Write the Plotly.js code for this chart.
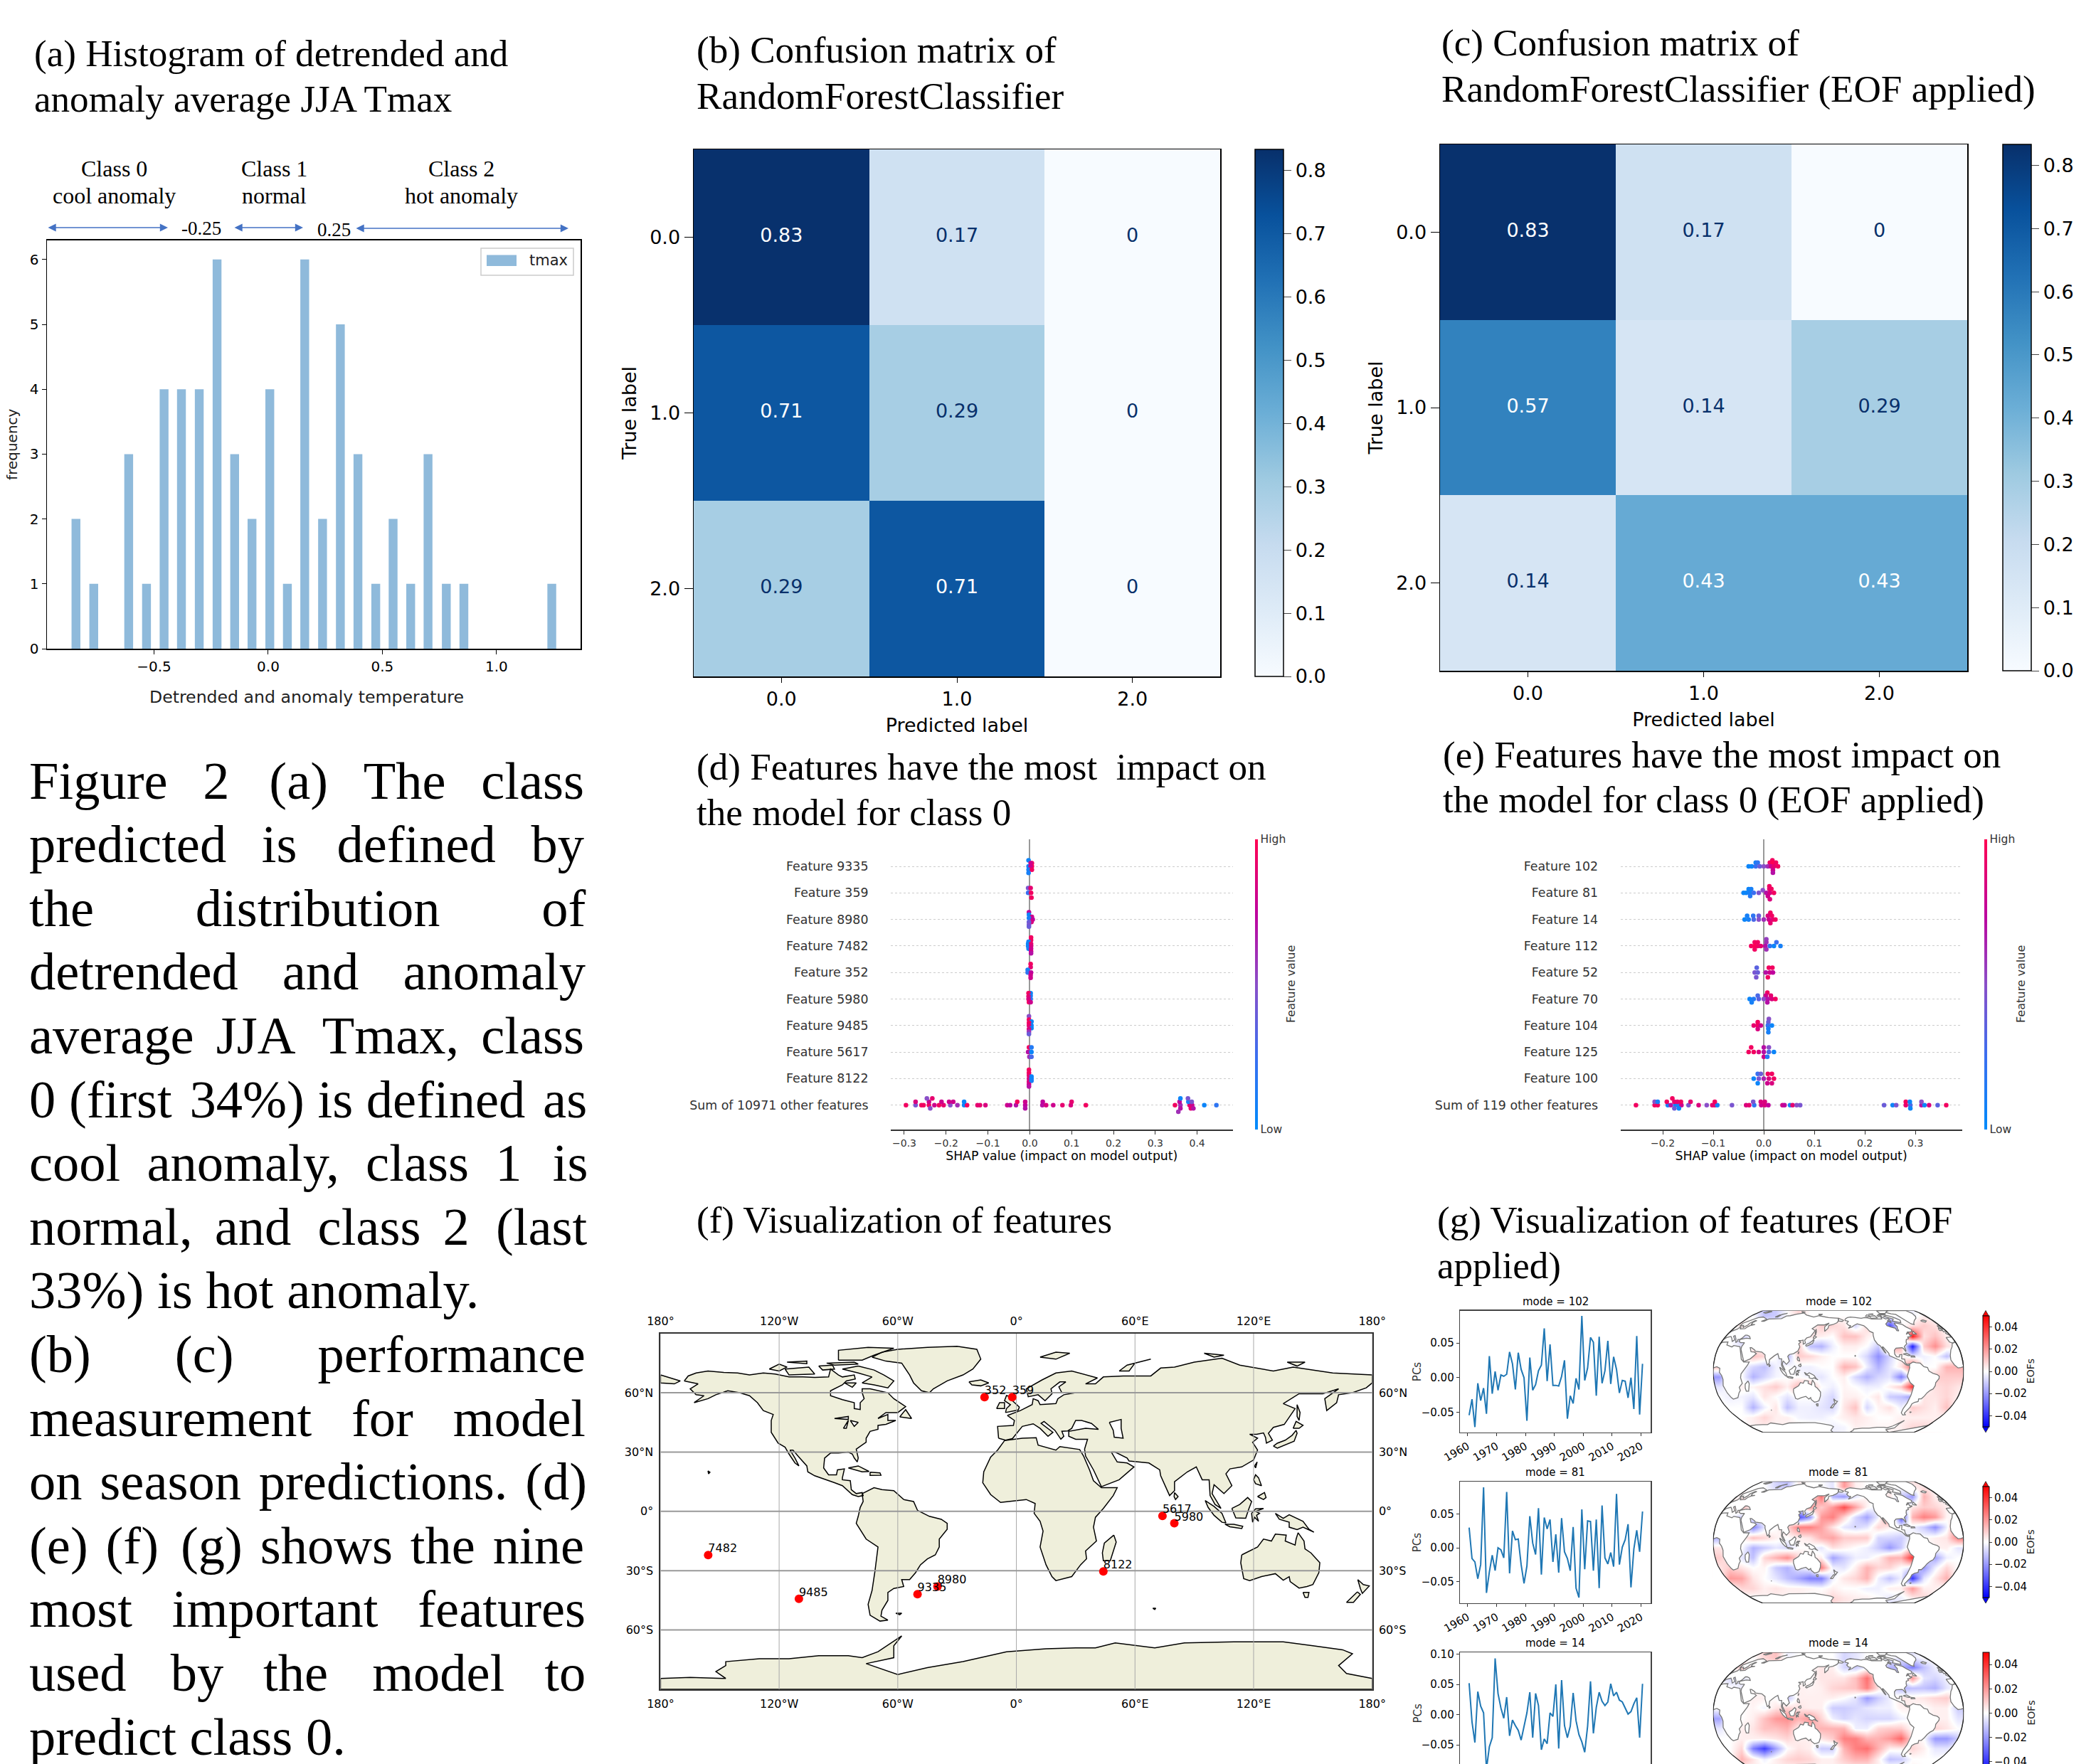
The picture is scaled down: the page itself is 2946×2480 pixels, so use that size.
<!DOCTYPE html>
<html><head><meta charset="utf-8">
<script src="https://cdn.plot.ly/plotly-3.0.1.min.js"></script>
<style>html,body{margin:0;padding:0;background:#fff;overflow:hidden}#wrap{width:2946px;height:2480px;overflow:hidden;position:relative}</style>
</head><body><div id="wrap"><div id="plot"></div></div>
<script>
// ---------- data ----------
const histBins=[-0.842,-0.764,-0.611,-0.533,-0.456,-0.380,-0.302,-0.224,-0.147,-0.071,0.007,0.084,0.160,0.238,0.316,0.393,0.471,0.547,0.624,0.700,0.780,0.857,1.242];
const histCounts=[2,1,3,1,4,4,4,6,3,2,4,1,6,2,5,3,1,2,1,3,1,1,1];
const classLabels=['0.0','1.0','2.0'];
const confusionB=[[0.83,0.17,0],[0.71,0.29,0],[0.29,0.71,0]];
const confusionC=[[0.83,0.17,0],[0.57,0.14,0.29],[0.14,0.43,0.43]];
const shapRowsD=['Feature 9335','Feature 359','Feature 8980','Feature 7482','Feature 352','Feature 5980','Feature 9485','Feature 5617','Feature 8122','Sum of 10971 other features'];
const shapRowsE=['Feature 102','Feature 81','Feature 14','Feature 112','Feature 52','Feature 70','Feature 104','Feature 125','Feature 100','Sum of 119 other features'];
// each point: [shap value, vertical offset in the row, feature value 0-1]
const shapPointsD=[
[[-.003,-.23,.05],[.005,-.125,.95],[.002,-.125,.8],[-.003,0,.1],[.005,0,1],[.002,0,.8],[-.003,.125,.1],[.005,.125,.95],[-.003,.25,.1]],
[[-.004,-.18,.45],[.002,-.18,.9],[-.004,0,.25],[.003,0,.95],[.004,.18,.95]],
[[-.002,-.27,.75],[-.002,-.18,.05],[.005,-.1,.8],[-.002,-.05,.1],[.007,0,.75],[.004,.1,.85],[-.002,.1,.4],[-.002,.2,.45],[-.002,.27,.4]],
[[.003,-.32,.95],[.003,-.22,.95],[-.003,-.16,.1],[-.004,-.08,.05],[.003,-.08,.9],[-.004,0,.05],[.003,0,.85],[-.003,.1,.1],[.003,.1,.8],[.003,.2,.8],[.003,.28,.7]],
[[.002,-.32,.95],[.002,-.2,.9],[-.005,-.1,.1],[-.005,0,.2],[.003,0,.75],[.002,.1,.8],[.002,.2,.8]],
[[.002,-.22,.05],[-.003,-.22,.95],[.002,-.12,.1],[-.003,-.1,.9],[.002,0,.2],[-.003,0,.85],[-.002,.12,.95],[.002,.12,.8]],
[[-.002,-.35,.5],[-.002,-.22,.95],[.004,-.15,.05],[-.002,-.1,.95],[.004,0,.05],[-.002,0,.9],[.004,.1,.05],[-.002,.13,.85],[-.002,.23,.6],[-.002,.32,.4]],
[[-.002,-.18,.95],[.004,-.18,.15],[-.004,0,.7],[.004,0,.05],[-.001,.18,.6],[.004,.18,.3]],
[[-.002,-.33,.95],[-.002,-.22,.95],[-.002,-.12,.9],[.004,-.08,.05],[-.002,0,.85],[.004,0,.05],[-.002,.12,.85],[.004,.08,.1],[-.002,.22,.8],[-.002,.3,.7]],
[[-.296,0,.95],[-.273,0,.45],[-.259,0,.95],[-.254,0,.95],[-.241,0,.95],[-.228,0,.8],[-.217,0,.95],[-.206,0,.9],[-.19,0,.5],[-.173,0,.6],[-.157,0,.05],[-.15,0,.95],[-.125,0,.9],[-.119,0,.9],[-.106,0,.85],[-.054,0,.8],[-.047,0,.75],[-.033,0,.7],[-.011,0,.75],[.03,0,.7],[.039,0,.85],[.056,0,.8],[.078,0,.9],[.098,0,.85],[.134,0,.95],[.347,0,.95],[.36,0,.6],[.382,0,.9],[.388,0,.8],[.417,0,.05],[.446,0,.2],
[-.273,-.125,.85],[-.241,-.125,.8],[-.211,-.125,.8],[-.193,-.125,.8],[-.183,-.125,.8],[-.157,-.125,.05],[-.03,-.125,.95],[-.011,-.125,.8],[.031,-.125,.75],[.1,-.125,.9],[.358,-.125,.75],[.379,-.125,.1],[.387,-.125,.45],
[-.246,-.25,.5],[-.233,-.25,.9],[.36,-.25,.05],[.378,-.25,.45],
[-.238,.125,.5],[-.011,.125,.7],[.36,.125,.7],[.385,.125,.9],[.391,.125,.7],[.355,.25,.6]]];
const shapPointsE=[
[[.017,-.23,.95],[-.016,-.14,.1],[-.012,-.14,.2],[.012,-.14,.95],[.018,-.14,1],[.024,-.14,.95],[-.03,0,.05],[-.024,0,.05],[-.016,0,.25],[-.008,0,.4],[0,0,.5],[.008,0,.6],[.014,0,.8],[.02,0,.9],[.028,0,.95],[.018,.14,.8],[.018,.24,.7]],
[[.011,-.25,.95],[.011,-.15,.9],[.015,-.15,.95],[-.03,-.14,.05],[-.025,-.14,.1],[-.04,0,.05],[-.035,0,.05],[-.028,0,.1],[-.02,0,.25],[-.01,0,.45],[-.002,-.1,.5],[.005,0,.7],[.012,0,.85],[.02,0,.95],[.008,.12,.8],[.012,.24,.85],[-.027,.12,.15]],
[[.013,-.25,.95],[-.033,-.14,.1],[-.021,-.14,.2],[-.01,-.14,.4],[.008,-.14,.85],[.016,-.14,.95],[-.038,0,.05],[-.03,0,.1],[-.02,0,.3],[-.01,0,.5],[0,0,.6],[.01,0,.8],[.018,0,.9],[.023,0,.95],[.013,.14,.9]],
[[.005,-.25,.55],[-.018,-.14,.95],[-.012,-.14,.95],[.005,-.14,.6],[.025,-.14,.25],[-.025,0,.95],[-.018,0,1],[-.012,0,.95],[-.006,0,.9],[.003,0,.7],[.012,0,.2],[.02,0,.05],[.033,0,.1],[-.018,.13,.95],[.005,.13,.6]],
[[-.014,-.18,.35],[.01,-.18,.95],[.017,-.18,.95],[-.018,0,.45],[-.012,0,.4],[.004,0,.7],[.012,0,.8],[.018,0,.75],[-.015,.18,.45],[.008,.18,.95]],
[[.007,-.24,.95],[-.012,-.13,.3],[.004,-.13,.8],[.014,-.13,.9],[-.028,0,.05],[-.02,0,.15],[-.01,0,.35],[0,0,.5],[.008,0,.7],[.016,0,.85],[.023,0,.95],[-.024,.13,.1],[.007,.13,.7]],
[[.01,-.25,.5],[-.012,-.13,.95],[.009,-.13,.4],[-.02,0,.9],[-.012,0,.95],[-.006,0,.8],[.008,0,.25],[.016,0,.05],[.009,.12,.1],[-.012,.13,.85],[.009,.25,.1]],
[[-.025,-.18,.95],[0,-.18,.7],[.01,-.18,.5],[-.03,0,.95],[-.02,0,.95],[-.01,0,.85],[0,0,.7],[.01,0,.3],[.02,0,.05],[0,.18,.8],[.007,.18,.15]],
[[-.012,-.18,.25],[-.006,-.18,.4],[.008,-.18,.95],[.016,-.18,.95],[-.02,0,.05],[-.01,0,.45],[0,0,.65],[.01,0,.85],[.02,0,.95],[-.012,.18,.05],[.007,.18,.8],[.016,.18,.85]],
[[-.253,0,.95],[-.216,0,.95],[-.21,0,.95],[-.19,0,.1],[-.184,0,.7],[-.175,0,.05],[-.169,0,.1],[-.163,0,.8],[-.149,0,.45],[-.129,0,.85],[-.113,0,.5],[-.102,0,.9],[-.097,0,.9],[-.092,0,.1],[-.063,0,.45],[-.035,0,.85],[-.029,0,.9],[-.019,0,.2],[-.005,0,.8],[.002,0,.85],[.009,0,.75],[.037,0,.8],[.041,0,.75],[.052,0,.1],[.057,0,.9],[.065,0,.5],[.072,0,.45],[.238,0,.4],[.255,0,.05],[.262,0,.45],[.281,0,.9],[.29,0,.3],[.312,0,.7],[.318,0,.05],[.327,0,.85],[.344,0,.35],[.361,0,.95],
[-.216,-.125,.5],[-.21,-.125,.1],[-.192,-.125,.95],[-.177,-.125,.9],[-.171,-.125,.9],[-.164,-.125,.95],[-.145,-.125,.9],[-.097,-.125,.95],[-.021,-.125,.45],[-.006,-.125,.85],[.002,-.125,.85],[.281,-.125,.95],[.289,-.125,.05],[.312,-.125,.5],
[-.181,-.25,.95],[-.177,.125,.4],[-.168,.125,.05],[.29,.125,.05]]];
const pcsMode102=[-.054,-.031,-.071,-.008,-.033,-.015,-.052,.031,-.023,.009,-.018,.004,.002,.005,.037,.020,-.017,.036,.012,0,-.062,.029,-.018,-.010,.010,.018,.071,-.005,.048,-.011,-.011,-.012,.002,.025,-.059,-.026,-.037,-.001,-.017,.089,-.004,.014,.058,.051,-.026,.059,-.008,.010,.053,-.009,.030,.012,-.022,-.004,-.005,-.029,0,-.045,.060,-.053,.020];
const pcsMode81=[.030,-.016,-.021,-.046,-.025,.090,-.067,-.036,-.011,-.034,0,-.003,-.015,.083,-.038,.025,.012,.013,-.025,-.053,-.027,.047,.007,-.010,.059,-.040,.045,.028,.042,-.021,.020,-.037,.044,-.006,-.016,-.034,.031,-.060,-.074,.057,-.032,.040,.039,-.034,.042,-.060,.063,-.015,-.024,-.007,-.028,.080,-.025,.001,.012,.035,-.059,-.002,.026,-.006,.054];
const pcsMode14=[.052,-.012,-.046,.038,.014,.003,-.09,-.053,-.038,.093,.035,.011,-.006,.029,-.035,-.009,-.018,-.026,-.042,-.020,.003,.037,-.038,.035,.015,-.058,-.040,-.048,.003,-.003,.050,-.056,.057,-.018,-.038,-.019,.036,-.010,-.033,-.045,-.062,-.019,.055,-.031,.012,.037,.022,.015,.021,.051,.031,.037,.024,.021,.011,.001,.005,.018,.028,-.038,.051];
// EOF loadings (in thousandths) on a coarse grid over the map picture, row by row from the top
const eofMode102=[
[0,0,0,0,-12,-10,0,8,0,0,0,0,0,0,0,0,0,-3,3,0,0,0],
[0,0,5,0,0,0,0,0,0,10,8,5,-8,8,0,-35,0,5,10,6,0,0],
[0,0,-10,0,0,0,0,0,5,3,0,12,12,3,0,-5,-10,45,6,12,3,0],
[0,0,-5,0,0,0,0,10,-12,-15,-3,3,3,0,-10,25,15,-45,10,22,6,0],
[0,0,0,12,8,0,-15,10,8,3,0,0,0,-8,-22,-8,3,-3,-3,0,-12,0],
[12,0,0,-8,-12,-3,0,-3,-3,0,0,15,12,-3,-15,-5,5,30,0,0,15,15],
[-20,0,0,-15,-8,-2,0,0,-3,-5,0,3,-8,-15,-8,-5,-25,0,0,10,10,10],
[-5,0,3,2,6,10,3,15,15,0,-3,2,0,-3,-3,3,10,40,0,6,8,5],
[0,-3,-2,-5,5,0,-5,0,0,-3,-8,3,3,0,5,-10,-12,-20,5,5,8,3],
[0,0,0,-15,-3,5,-12,-3,-3,-5,-8,5,12,-8,2,6,-3,10,6,3,12,0],
[0,0,0,3,8,3,3,-2,-3,-3,0,3,5,3,0,0,3,3,3,3,3,0],
[0,0,0,3,3,3,3,3,3,2,-3,-2,3,2,2,2,3,8,8,5,0,0]];
const eofMode81=[
[0,0,0,0,0,-8,-12,3,0,0,-5,20,3,0,0,0,0,5,5,0,0,0],
[0,0,3,0,0,0,0,0,0,28,-15,-20,-5,3,0,5,-10,-20,15,3,0,0],
[0,0,15,0,0,0,0,0,20,10,20,35,18,2,-5,0,-5,5,10,8,3,0],
[0,0,-10,0,0,0,0,-35,-20,20,25,8,-8,-18,-3,30,-38,15,25,20,2,0],
[0,0,0,-25,-5,0,8,25,25,18,5,-5,-8,-5,8,3,2,-3,-10,-22,-3,25],
[-15,0,0,12,8,3,0,3,5,15,18,10,10,10,-8,-8,-10,0,0,3,5,25],
[5,0,0,-15,-10,-5,-8,0,0,-5,6,3,0,-3,-10,-20,-10,8,0,3,3,-5],
[10,3,-5,-12,8,15,22,8,3,3,-18,-10,-3,-3,3,15,15,40,-5,-18,-3,0],
[5,10,5,0,2,-10,-15,-5,0,25,-3,-5,3,15,8,8,0,-5,-20,-3,8,0],
[0,20,18,5,0,-5,-12,-18,-25,-25,-3,5,8,15,-3,-12,-3,-40,-5,5,15,0],
[0,0,8,8,3,5,3,3,2,0,3,0,0,-3,-3,3,3,20,3,3,0,0],
[0,0,0,0,3,3,3,3,0,3,8,5,3,3,0,-5,-3,3,8,3,0,0]];
const eofMode14=[
[0,0,0,0,8,12,-3,0,0,0,0,-8,-5,0,0,0,-5,-5,0,0,0,0],
[0,0,10,0,0,0,0,0,0,5,3,-8,-10,-3,0,-15,-15,-25,-12,-3,0,0],
[0,-8,-5,0,0,0,0,0,0,5,5,5,12,28,5,0,-8,20,-5,-8,-3,0],
[0,0,-3,0,0,0,0,3,2,3,8,10,12,25,5,-2,-15,-12,-12,-15,-5,0],
[0,0,0,3,3,0,-12,3,3,3,3,0,-5,-20,-10,-3,5,3,5,8,10,0],
[0,0,0,2,-2,5,8,5,3,3,-10,-10,-8,-5,-3,-3,3,3,0,3,3,-10],
[-18,0,0,3,12,20,22,15,20,8,-3,-8,-5,-8,-8,-8,-3,0,0,3,3,-5],
[-5,0,3,5,12,12,15,3,12,15,15,15,-3,-3,8,10,10,0,0,8,5,0],
[0,0,3,3,3,5,8,3,3,5,10,25,25,15,15,20,30,5,0,-20,-20,-10],
[0,0,8,-25,-38,-18,0,5,3,-10,-10,15,25,28,15,3,3,8,3,-5,-5,0],
[0,0,15,5,-3,3,8,10,8,3,3,10,15,15,3,-12,-10,0,0,0,0,0],
[0,0,3,3,3,3,3,3,3,3,3,3,3,3,3,3,3,3,0,0,0,0]];
const featureIds=['352','359','8980','9335','9485','7482','8122','5617','5980'];
const featureLon=[-16.1,-2.1,-39.9,-50,-110,-155.9,44,73.9,79.9];
const featureLat=[57.8,57.8,-38,-41.9,-44.2,-22.1,-30.4,-2.3,-6];
const lonTicks=[-180,-120,-60,0,60,120,180];
const lonLabels=['180°','120°W','60°W','0°','60°E','120°E','180°'];
const latTicks=[-60,-30,0,30,60];
const latLabels=['60°S','30°S','0°','30°N','60°N'];
// coarse coastlines, longitude / latitude
const landOutlines=[
[[-168,66],[-166,68.5],[-162,70],[-156,71],[-148,70.3],[-141,70],[-135,69],[-128,70],[-122,69.5],[-115,68],[-108,68],[-102,67.8],[-95,68],[-94,72],[-90,69],[-88,68],[-82,69],[-81.5,67],[-86,66],[-88,64],[-94,61],[-94,58.5],[-88,56.5],[-82,55],[-82,52],[-79,51.5],[-79,55],[-77,57],[-78,60],[-78,62],[-74,62],[-70,61],[-65,60],[-62,57],[-56,53],[-60,50],[-66,50],[-70,47],[-65,49],[-65,46],[-61,46],[-66,44],[-70,43.5],[-70,41.5],[-74,40.5],[-76,37],[-76,35],[-81,31.5],[-80,27],[-80.5,25],[-82,27],[-83,29],[-85,30],[-90,29.5],[-94,29.5],[-97,27],[-97.5,22],[-95,18.5],[-91,18.5],[-90.5,21],[-87,21.5],[-88,17],[-88,16],[-84,15.5],[-83.5,11],[-81,9],[-78,9.5],[-77.5,8],[-80,7.5],[-83,8.5],[-86,11],[-88,13],[-92,14.5],[-96,16],[-102,18],[-105.5,20],[-106,23],[-110,27.5],[-113,31],[-114.5,31],[-112,27],[-110,23],[-112,24.5],[-115,29],[-117,32.5],[-120.5,34.5],[-122.5,37.5],[-124,40],[-124,46],[-123,49],[-128,51],[-131,55],[-135,58.5],[-140,60],[-146,61],[-152,59],[-156,57],[-163,55],[-158,58.5],[-162,59],[-165,62],[-161,64.5],[-168,66]],
[[-73,78],[-68,80.5],[-60,82],[-45,83],[-30,83.5],[-20,82],[-18,77],[-22,72],[-27,69],[-35,66],[-42,62],[-44,60],[-48,61],[-52,65],[-54,69],[-58,75],[-66,76],[-73,78]],
[[-80,73.5],[-72,71.5],[-67,69],[-62,66],[-65,62.5],[-72,64],[-78,65],[-73,68],[-80,70],[-88,72],[-80,73.5]],
[[-117,72],[-105,73],[-102,69.5],[-115,69],[-117,72]],
[[-90,76.5],[-78,76.5],[-72,79],[-62,82.5],[-75,83],[-90,81.5],[-90,76.5]],
[[-125,72],[-120,74.5],[-116,73],[-120,71],[-125,72]],
[[-96,75],[-82,75.5],[-80,74.5],[-92,74],[-96,75]],
[[-116,75.5],[-106,76],[-106,74.7],[-116,75.5]],
[[-100,73.5],[-93,74],[-92,72],[-98,71.5],[-100,73.5]],
[[-87,65],[-81,65],[-83,62.8],[-87,65]],
[[-59,47.8],[-56,51.5],[-53,47],[-59,47.8]],
[[-85,22],[-80,23],[-74.5,20.2],[-78,20],[-85,22]],
[[-74,19.8],[-69,19.5],[-68.5,18.3],[-74,18.2],[-74,19.8]],
[[-156,20.5],[-155,19.8],[-155.7,19],[-156,20.5]],
[[-78,9],[-72,12],[-68,11],[-62,10.5],[-57,6],[-52,5],[-50,0.5],[-44,-2.5],[-38,-4],[-35,-6],[-35,-9],[-39,-14],[-39,-18],[-41,-22],[-45,-24],[-48.5,-27],[-51,-31],[-54,-34.5],[-58,-34.5],[-57,-38],[-62,-39],[-65,-41],[-65,-45],[-68,-50],[-68.5,-53],[-65,-55],[-69,-55.5],[-74,-52.5],[-75,-47],[-73,-40],[-71.5,-30],[-70,-18],[-76,-14],[-81,-6],[-80,-2.5],[-79,2],[-77.5,5],[-78,9]],
[[-6,35.8],[3,37],[10,37.3],[11,33.5],[20,31],[22,32.8],[32,31.3],[34,28],[37,21],[39,15.5],[43,12],[51,12],[49,8],[44,1.5],[40,-3],[39,-8],[40.5,-15],[35,-20],[35.5,-24],[32.5,-27],[28,-33],[20,-35],[18,-33],[15,-27],[12,-18],[13.5,-10],[12,-5],[9,-1],[9.5,4],[5,6],[-4,5],[-8,4.5],[-13,8.5],[-17,14.5],[-16.5,20],[-13,27.5],[-9.5,31],[-6,35.8]],
[[-9,37],[-9.5,43],[-1.5,43.5],[-1,46],[-4.5,48.5],[2,51],[8,54],[8.5,57],[11,56],[12,54],[20,54.5],[21,57],[24,59],[30,60],[23,60],[21.5,63],[25,65.5],[22,65.5],[17.5,62],[18,59.5],[14.5,56],[11,59],[6,58],[5,62],[13,66.5],[20,70],[28,71],[41,67.5],[35,64.5],[40,64.5],[44,68],[54,68.5],[68,68.5],[73,72.5],[80,73],[90,75.5],[104,77.5],[113,74],[130,71],[140,73],[160,70],[170,69.5],[180,69],[180,65],[177,62.5],[170,60],[163,59],[162,55],[157,51],[156,57],[163,62],[155,59.5],[143,59.5],[135,54.5],[141,52],[135.5,44],[130,42.5],[127.5,39.5],[129.5,36],[126.5,34.5],[126,37.5],[125,39.7],[121.5,39],[118,39],[122,37],[119.5,35],[122,31],[120,26],[114,22.5],[108,21.5],[106,19],[109,13],[105,9],[100,13.5],[99,9],[103.5,1.5],[100.5,3.5],[98,8],[97.5,16],[94,16],[91,22.5],[86.5,20],[80,15],[80,10.5],[77.5,8],[73,18],[72.5,21],[67,24.5],[57,25.5],[56,27],[50,30],[48,30],[51,25],[56,24.5],[59.5,22.5],[52,16],[43,12.5],[39,21],[35,28],[34.5,31.5],[36,36.5],[30,36.5],[26.5,38],[26.5,40.5],[29,41],[35,42],[41.5,41.5],[38,44.5],[33,46],[30,46],[28,42],[26,40.7],[23,40.5],[24,38],[22.5,36.5],[19.5,41],[14,45.5],[12.5,44.5],[18.5,40],[16,38],[12,42],[8.5,44.3],[3,43],[0,39.5],[-2,36.8],[-5.5,36],[-9,37]],
[[-180,69],[-170,66],[-173,64.5],[-180,65],[-180,69]],
[[-5.5,50],[1,51.3],[1.5,52.8],[-2,56],[-2,57.7],[-5,58.6],[-6,56],[-3,54],[-5,52],[-5.5,50]],
[[-10,52],[-6,52],[-6,55],[-8.5,55],[-10,52]],
[[-24,65.5],[-18,66.5],[-14,65],[-18,63.5],[-22.5,64],[-24,65.5]],
[[12,78],[20,80.5],[27,80],[20,77],[12,78]],
[[52,71],[56,74],[68,77],[60,75],[57,71],[52,71]],
[[95,80],[105,79],[100,78],[95,80]],
[[137,75.5],[146,75.5],[142,73.5],[137,75.5]],
[[142,54],[143.5,50],[143,46],[142,48],[142,54]],
[[130,33],[132,34.5],[136,36],[139.5,38.5],[141.5,41],[142,39.5],[140.5,35.5],[136,33.7],[132,32],[130,33]],
[[140,42],[141.5,45.5],[145,43.5],[143,42],[140,42]],
[[120.5,23],[121.8,25],[121,22],[120.5,23]],
[[120,16],[121,18.5],[122.5,17],[124,13],[121,14],[120,16]],
[[122,7.5],[125.5,9.5],[126.3,7],[125,6],[122,7.5]],
[[80,9.5],[81.8,7.5],[80.5,6],[79.8,7.5],[80,9.5]],
[[95.5,5.5],[100,2.5],[104,-1],[106,-5.8],[104,-5.5],[100,-2],[97,2],[95.5,5.5]],
[[105.5,-6.5],[110,-6.5],[114.5,-7.5],[114,-8.7],[108,-7.8],[105.5,-6.5]],
[[109,1.5],[113,3.5],[117,7],[119,5],[117.5,1],[116,-3.5],[111,-3.3],[109,1.5]],
[[119.5,-5.5],[119,-1],[121,1.3],[125,1.5],[121,0],[123,-1],[121.5,-2],[122.5,-5],[120.5,-3],[119.5,-5.5]],
[[131,-1],[135,-3.5],[138,-1.7],[145,-5],[148,-9],[150.5,-10.5],[145,-8],[142,-9.2],[138,-8],[138,-5.5],[133,-4],[131,-1]],
[[114,-22],[113.5,-26],[115,-34],[118,-35],[124,-33],[131,-31.5],[135,-34.8],[138,-33],[138.5,-35.5],[143,-38.8],[147,-38],[150,-37],[153,-31],[153.5,-26],[149,-21],[146,-19],[145.5,-15],[142.5,-10.8],[141.5,-14],[141,-17],[136,-15],[136.5,-12],[131,-11.5],[129,-15],[125,-14],[122,-18],[114,-22]],
[[145,-41],[148,-41],[147.5,-43.5],[146,-43.5],[145,-41]],
[[172.7,-34.5],[175.5,-37],[178.5,-37.7],[175,-41.5],[174,-39],[172.7,-34.5]],
[[172.5,-40.7],[174,-42],[170.5,-46],[167,-46],[172.5,-40.7]],
[[49.3,-12],[50.5,-15.5],[47.5,-25],[44,-25],[43.5,-21],[44.5,-16],[49.3,-12]],
[[69,-49],[70.5,-49],[70,-49.6],[69,-49]],
[[-61,-51.5],[-58,-51.5],[-59,-52.3],[-61,-51.5]],
[[-180,-84.5],[-165,-84],[-147,-84.5],[-152,-81],[-147,-78],[-147,-76],[-130,-74.5],[-115,-74.5],[-100,-73],[-85,-73],[-78,-74],[-70,-71],[-58,-63],[-62,-68],[-62,-74],[-76,-77],[-60,-82.5],[-45,-79],[-27,-76],[-5,-71],[15,-69.5],[30,-69],[40,-69],[50,-66.5],[70,-69],[85,-66.5],[110,-66],[135,-66],[150,-68],[165,-70],[170,-72],[163,-78],[167,-82],[180,-84.5],[180,-90],[-180,-90],[-180,-84.5]]];
const inlandWaters=[
[[47,45],[53,46.5],[53,42],[54,37],[49.5,37.5],[49,41],[47,45]],
[[-92,47],[-85,48],[-85,46.5],[-92,47]],
[[-87.5,42],[-85,46],[-86,42],[-87.5,42]],
[[-84,46],[-80,45],[-82,43],[-84,46]]];
const captionLines=['Figure 2 (a) The class','predicted is defined by','the distribution of','detrended and anomaly','average JJA Tmax, class','0 (first 34%) is defined as','cool anomaly, class 1 is','normal, and class 2 (last','33%) is hot anomaly.','(b) (c) performance','measurement for model','on season predictions. (d)','(e) (f) (g) shows the nine','most important features','used by the model to','predict class 0.'];
const captionNatural=[8,15];

// ---------- helpers ----------
const W=2946,H=2640;
const SERIF='"Liberation Serif","Times New Roman",serif', SANS='"DejaVu Sans",sans-serif';
const TITLE=53.1;
const X=p=>p/W, Y=p=>1-p/H;
const dx=(a,b)=>[a/W,b/W], dy=(a,b)=>[1-b/H,1-a/H];
const annotations=[], shapes=[], traces=[], layout={};
function txt(x,y,text,size,family,opt){annotations.push(Object.assign({xref:'paper',yref:'paper',x:X(x),y:Y(y),text:text,showarrow:false,xanchor:'left',yanchor:'middle',font:{size:size,family:family||SANS,color:'#000'}},opt||{}));}
function arrow(x0,x1,y){annotations.push({xref:'paper',yref:'paper',x:X(x1),y:Y(y),axref:'pixel',ayref:'pixel',ax:x0-x1,ay:0,text:'',showarrow:true,arrowside:'end+start',arrowhead:2,startarrowhead:2,arrowsize:1.6,startarrowsize:1.6,arrowwidth:1.4,arrowcolor:'#4472c4',standoff:0,startstandoff:0});}
const measure=document.createElement('canvas').getContext('2d');
function justified(line,width,size){
  measure.font=size+'px "Liberation Serif"';
  const words=line.split(' ');
  if(words.length<2) return line;
  const total=words.reduce((s,w)=>s+measure.measureText(w).width,0);
  const gap=(width-total)/(words.length-1);
  const nb=measure.measureText('\u00A0').width, hair=measure.measureText('\u200A').width||1;
  let out=words[0],err=0;
  for(let i=1;i<words.length;i++){
    const want=gap+err;const n=Math.max(1,Math.floor(want/nb));
    const rest=want-n*nb;const h=Math.max(0,Math.round(rest/hair));
    err=want-n*nb-h*hair;
    out+='\u00A0'.repeat(n)+'\u200A'.repeat(h)+words[i];
  }
  return out;
}
function axisBase(o){return Object.assign({showgrid:false,zeroline:false,showline:true,mirror:true,linecolor:'#000',linewidth:1.5,ticks:'outside',ticklen:6,tickcolor:'#000',tickfont:{family:SANS,size:20,color:'#000'},automargin:false},o);}

// ---------- (a) histogram ----------
layout.xaxis=axisBase({domain:dx(66,816),range:[-0.969,1.368],tickvals:[-.5,0,.5,1],tickformat:'.1f',anchor:'y'});
layout.yaxis=axisBase({domain:dy(337.5,912),range:[0,6.3],tickvals:[0,1,2,3,4,5,6],anchor:'x',
  title:{text:'frequency',font:{family:SANS,size:20,color:'#222'},standoff:12}});
txt(431,980,'Detrended and anomaly temperature',23.6,SANS,{xanchor:'center',font:{size:23.6,family:SANS,color:'#222'}});
traces.push({type:'bar',name:'tmax',x:histBins,y:histCounts,width:0.0387,marker:{color:'#8fbadb',line:{width:0}},xaxis:'x',yaxis:'y',showlegend:false});
// legend box drawn to the size it has in the picture
shapes.push({type:'rect',xref:'paper',yref:'paper',x0:X(676),x1:X(806),y0:Y(349),y1:Y(387),fillcolor:'#fff',line:{color:'#ccc',width:1.5},layer:'above'});
shapes.push({type:'rect',xref:'paper',yref:'paper',x0:X(684),x1:X(726),y0:Y(358.5),y1:Y(374),fillcolor:'#8fbadb',line:{width:0},layer:'above'});
txt(742,366,'tmax',21,SANS,{font:{size:21,family:SANS,color:'#222'}});
txt(160,237,'Class 0',32,SERIF,{xanchor:'center'});txt(160,275,'cool anomaly',32,SERIF,{xanchor:'center'});
txt(385,237,'Class 1',32,SERIF,{xanchor:'center'});txt(385,275,'normal',32,SERIF,{xanchor:'center'});
txt(648,237,'Class 2',32,SERIF,{xanchor:'center'});txt(648,275,'hot anomaly',32,SERIF,{xanchor:'center'});
txt(283,321,'-0.25',27,SERIF,{xanchor:'center'});txt(469,323,'0.25',27,SERIF,{xanchor:'center'});
arrow(66,236,320);arrow(328,426,320);arrow(499,799,321);

// ---------- (b)(c) confusion matrices ----------
const BLUES=[[0,'#f7fbff'],[.125,'#deebf7'],[.25,'#c6dbef'],[.375,'#9ecae1'],[.5,'#6baed6'],[.625,'#4292c6'],[.75,'#2171b5'],[.875,'#08519c'],[1,'#08306b']];
function confusion(n,z,x0,x1,y0,y1,cbx){
  const f={family:SANS,size:27,color:'#000'};
  layout['xaxis'+n]=axisBase({domain:dx(x0,x1),range:[-.5,2.5],tickvals:[0,1,2],ticktext:classLabels,tickfont:f,ticklen:7,anchor:'y'+n,title:{text:'Predicted label',font:f,standoff:13}});
  layout['yaxis'+n]=axisBase({domain:dy(y0,y1),range:[2.5,-.5],tickvals:[0,1,2],ticktext:classLabels,tickfont:f,ticklen:12,anchor:'x'+n,title:{text:'True label',font:f,standoff:10}});
  traces.push({type:'heatmap',x:[0,1,2],y:[0,1,2],z:z,zmin:0,zmax:.8333,colorscale:BLUES,xaxis:'x'+n,yaxis:'y'+n,
    colorbar:{x:X(cbx),xanchor:'left',xpad:0,ypad:0,y:Y(y0),yanchor:'top',len:y1-y0,lenmode:'pixels',thickness:40,tickvals:[0,.1,.2,.3,.4,.5,.6,.7,.8],tickformat:'.1f',ticks:'outside',ticklen:11,tickfont:f,outlinewidth:1.5,outlinecolor:'#000'}});
  const tx=[],ty=[],tt=[],tc=[];
  z.forEach((r,i)=>r.forEach((v,j)=>{tx.push(j);ty.push(i);tt.push(String(v));tc.push(v>.415?'#ffffff':'#08306b');}));
  traces.push({type:'scatter',mode:'text',x:tx,y:ty,text:tt,textfont:{family:SANS,size:27,color:tc},textposition:'middle center',xaxis:'x'+n,yaxis:'y'+n,showlegend:false,hoverinfo:'skip'});
}
confusion(2,confusionB,975,1715,210,951,1764);
confusion(3,confusionC,2024,2765,203,943,2815);
txt(977,71,'(b) Confusion matrix of',TITLE,SERIF);txt(977,135,'RandomForestClassifier',TITLE,SERIF);
txt(2024,61,'(c) Confusion matrix of',TITLE,SERIF);txt(2024,125,'RandomForestClassifier (EOF applied)',TITLE,SERIF);
txt(46,75,'(a) Histogram of detrended and',TITLE,SERIF);txt(46,139,'anomaly average JJA Tmax',TITLE,SERIF);

// ---------- (d)(e) SHAP ----------
const SHAP=[[0,'#008bfb'],[.25,'#3a6ff0'],[.5,'#8a4fc8'],[.75,'#c0009c'],[1,'#ff0051']];
function shap(n,rows,points,x0,x1,range,ticks,cbx,titleX){
  const sx=[],sy=[],sc=[];
  points.forEach((r,i)=>r.forEach(p=>{sx.push(p[0]);sy.push(i+p[1]);sc.push(p[2]);}));
  layout['xaxis'+n]={domain:dx(x0,x1),range:range,tickvals:ticks,tickformat:'.1f',showgrid:false,zeroline:true,zerolinecolor:'#999',zerolinewidth:2,showline:true,linecolor:'#333',linewidth:2,ticks:'outside',ticklen:5,tickcolor:'#333',tickfont:{family:SANS,size:14,color:'#333'},anchor:'y'+n,automargin:false,
    title:{text:'SHAP value (impact on model output)',font:{family:SANS,size:17.3,color:'#000'},standoff:5}};
  layout['yaxis'+n]={domain:dy(1180,1588),range:[9.92,-1.02],tickvals:rows.map((r,i)=>i),ticktext:rows,showgrid:true,griddash:'dot',gridcolor:'#ccc',gridwidth:1,zeroline:false,showline:false,ticks:'outside',ticklen:27,tickcolor:'rgba(0,0,0,0)',tickfont:{family:SANS,size:17.4,color:'#333'},anchor:'x'+n,automargin:false};
  traces.push({type:'scatter',mode:'markers',x:sx,y:sy,xaxis:'x'+n,yaxis:'y'+n,showlegend:false,
    marker:{size:6.5,color:sc,cmin:0,cmax:1,colorscale:SHAP,line:{width:0},
      colorbar:{x:X(cbx),xanchor:'left',xpad:0,ypad:0,y:Y(1180),yanchor:'top',len:408,lenmode:'pixels',thickness:4,tickvals:[0,1],ticktext:['Low','High'],ticks:'',ticklen:2,tickfont:{family:SANS,size:15.5,color:'#333'},outlinewidth:0}}});
  txt(titleX,1384,'Feature value',16,SANS,{textangle:-90,xanchor:'center',font:{size:16,family:SANS,color:'#333'}});
}
shap(4,shapRowsD,shapPointsD,1252,1732.5,[-.3323,.4848],[-.3,-.2,-.1,0,.1,.2,.3,.4],1764,1814);
shap(5,shapRowsE,shapPointsE,2277.6,2757.5,[-.2837,.392],[-.2,-.1,0,.1,.2,.3],2789,2840);
txt(977,1078,'(d) Features have the most \u00A0impact on',TITLE,SERIF);txt(977,1142,'the model for class 0',TITLE,SERIF);
txt(2026,1061,'(e) Features have the most impact on',TITLE,SERIF);txt(2026,1124,'the model for class 0 (EOF applied)',TITLE,SERIF);

// ---------- (f) world map ----------
function flat(polys,mapper){const xs=[],ys=[];polys.forEach(p=>{const q=mapper(p);if(!q)return;q.forEach(c=>{xs.push(c[0]);ys.push(c[1]);});xs.push(null);ys.push(null);});return [xs,ys];}
const labelFont={family:SANS,size:16,color:'#000'};
layout.xaxis6={domain:dx(928.4,1928.7),range:[-180,180],tickvals:lonTicks,ticktext:lonLabels,showgrid:false,zeroline:false,showline:true,mirror:true,linecolor:'#333',linewidth:2,ticks:'outside',ticklen:5,tickcolor:'rgba(0,0,0,0)',tickfont:labelFont,anchor:'y6',automargin:false};
layout.yaxis6={domain:dy(1874.7,2375),range:[-90,90],tickvals:latTicks,ticktext:latLabels,showgrid:false,zeroline:false,showline:true,mirror:true,linecolor:'#333',linewidth:2,ticks:'outside',ticklen:5,tickcolor:'rgba(0,0,0,0)',tickfont:labelFont,anchor:'x6',automargin:false};
layout.xaxis7={domain:dx(928.4,1928.7),range:[-180,180],tickvals:lonTicks,ticktext:lonLabels,side:'top',overlaying:'x6',showgrid:false,zeroline:false,showline:false,ticks:'outside',ticklen:4,tickcolor:'rgba(0,0,0,0)',tickfont:labelFont,anchor:'y7',automargin:false};
layout.yaxis7={domain:dy(1874.7,2375),range:[-90,90],tickvals:latTicks,ticktext:latLabels,side:'right',overlaying:'y6',showgrid:false,zeroline:false,showline:false,ticks:'outside',ticklen:5,tickcolor:'rgba(0,0,0,0)',tickfont:labelFont,anchor:'x7',automargin:false};
traces.push({type:'scatter',mode:'markers',x:[0],y:[0],xaxis:'x7',yaxis:'y7',marker:{opacity:0,size:1},showlegend:false,hoverinfo:'skip'});
const land=flat(landOutlines,p=>p), water=flat(inlandWaters,p=>p);
traces.push({type:'scatter',mode:'lines',x:land[0],y:land[1],fill:'toself',fillcolor:'#efefdb',line:{color:'#000',width:1.5},xaxis:'x6',yaxis:'y6',showlegend:false,hoverinfo:'skip'});
traces.push({type:'scatter',mode:'lines',x:water[0],y:water[1],fill:'toself',fillcolor:'#ffffff',line:{color:'#000',width:1.5},xaxis:'x6',yaxis:'y6',showlegend:false,hoverinfo:'skip'});
const gridLon=[],gridLonY=[],gridLat=[],gridLatX=[];
lonTicks.forEach(l=>{gridLon.push(l,l,null);gridLonY.push(-90,90,null);});
latTicks.forEach(l=>{gridLat.push(l,l,null);gridLatX.push(-180,180,null);});
traces.push({type:'scatter',mode:'lines',x:gridLon,y:gridLonY,line:{color:'#a8a8a8',width:1},xaxis:'x6',yaxis:'y6',showlegend:false,hoverinfo:'skip'});
traces.push({type:'scatter',mode:'lines',x:gridLatX,y:gridLat,line:{color:'#999',width:2},xaxis:'x6',yaxis:'y6',showlegend:false,hoverinfo:'skip'});
traces.push({type:'scatter',mode:'markers',x:featureLon,y:featureLat,marker:{color:'#ff0000',size:12},xaxis:'x6',yaxis:'y6',showlegend:false});
traces.push({type:'scatter',mode:'text',x:featureLon,y:featureLat,text:featureIds,textposition:'top right',textfont:labelFont,xaxis:'x6',yaxis:'y6',showlegend:false,cliponaxis:false,hoverinfo:'skip'});
txt(977,1715,'(f) Visualization of features',TITLE,SERIF);
txt(2018,1715,'(g) Visualization of features (EOF',TITLE,SERIF);txt(2018,1779,'applied)',TITLE,SERIF);

// ---------- (g) PCs and EOF maps ----------
const years=[];for(let i=0;i<61;i++)years.push(1960.5+i);
const yearTicks=[1960,1970,1980,1990,2000,2010,2020];
const PLEN=[1,.9986,.9954,.99,.9822,.973,.96,.9427,.9216,.8962,.8679,.835,.7986,.7597,.7186,.6732,.6213,.5722,.5322];
const PDFE=[0,.062,.124,.186,.248,.31,.372,.434,.4958,.5571,.6176,.6769,.7346,.7903,.8435,.8936,.9394,.9761,1];
const LATMAX=82, YMAX=.484;
function robinson(lon,lat){
  const a=Math.min(Math.abs(lat),LATMAX)/5,i=Math.floor(a),t=a-i;
  const pl=PLEN[i]+(PLEN[i+1]-PLEN[i])*t,pd=PDFE[i]+(PDFE[i+1]-PDFE[i])*t;
  return [pl*lon/180,(lat<0?-1:1)*.5072*pd];
}
function pacificCopies(polys){
  const out=[];
  polys.forEach(p=>{[-180,180].forEach(s=>{
    const sh=p.map(c=>c[0]+s);
    if(sh.every(v=>v<=-180)||sh.every(v=>v>=180))return;
    out.push(p.map(c=>robinson(Math.max(-180,Math.min(180,c[0]+s)),c[1])));
  });});
  return out;
}
const landCopies=flat(pacificCopies(landOutlines),p=>p);
const rimLeft=[],rimRight=[];
for(let l=LATMAX;l>=-LATMAX;l-=4){rimLeft.push(robinson(-180,l));rimRight.push(robinson(180,l));}
rimLeft.push(robinson(-180,-LATMAX));rimRight.push(robinson(180,-LATMAX));
const gridX=[],gridY=[];
for(let i=0;i<22;i++)gridX.push((46+48*i-551)/529);
for(let j=0;j<12;j++)gridY.push((279.5-(43+43*j))/257.5*YMAX);
const BWR=[[0,'#0000ff'],[.5,'#ffffff'],[1,'#ff0000']];
function pcPanel(n,name,series,y0,y1,range,ticks,showYears){
  const f={family:SANS,size:15,color:'#000'};
  layout['xaxis'+n]={domain:dx(2051.9,2320.4),range:[1957.3,2023.4],tickvals:yearTicks,tickangle:-30,showticklabels:showYears,showgrid:false,zeroline:false,showline:true,mirror:true,linecolor:'#444',linewidth:1.2,ticks:'outside',ticklen:4,tickcolor:'#333',tickfont:f,anchor:'y'+n,automargin:false};
  layout['yaxis'+n]={domain:dy(y0,y1),range:range,tickvals:ticks,tickformat:'.2f',showgrid:false,zeroline:false,showline:true,mirror:true,linecolor:'#444',linewidth:1.2,ticks:'outside',ticklen:4,tickcolor:'#333',tickfont:f,anchor:'x'+n,automargin:false};
  traces.push({type:'scatter',mode:'lines',x:years,y:series,line:{color:'#1f77b4',width:2},xaxis:'x'+n,yaxis:'y'+n,showlegend:false});
  txt(2186,y0-13,name,15,SANS,{xanchor:'center'});
  txt(1992,(y0+y1)/2,'PCs',15,SANS,{xanchor:'center',textangle:-90,font:{size:15,family:SANS,color:'#333'}});
}
function eofPanel(n,name,grid,y0,y1,cbTop,cbLen){
  layout['xaxis'+n]={domain:dx(2407.8,2760.2),range:[-1,1],visible:false,anchor:'y'+n};
  layout['yaxis'+n]={domain:dy(y0,y1),range:[-YMAX,YMAX],visible:false,anchor:'x'+n};
  const zs=grid.map(r=>r.map(v=>v/1000)).reverse();
  traces.push({type:'heatmap',x:gridX,y:gridY.slice().reverse(),z:zs,zsmooth:'best',zmin:-.05,zmax:.05,colorscale:BWR,xaxis:'x'+n,yaxis:'y'+n,
    colorbar:{x:X(2786.7),xanchor:'left',xpad:0,ypad:0,y:Y(cbTop),yanchor:'top',len:cbLen,lenmode:'pixels',thickness:8.5,tickvals:[-.04,-.02,0,.02,.04],tickformat:'.2f',ticks:'outside',ticklen:4,tickfont:{family:SANS,size:15,color:'#000'},outlinewidth:1,outlinecolor:'#000'}});
  const mL=rimLeft.concat([[-1.05,-YMAX],[-1.05,YMAX],rimLeft[0]]), mR=rimRight.concat([[1.05,-YMAX],[1.05,YMAX],rimRight[0]]);
  const m=flat([mL,mR],p=>p);
  traces.push({type:'scatter',mode:'lines',x:m[0],y:m[1],fill:'toself',fillcolor:'#fff',line:{width:0},xaxis:'x'+n,yaxis:'y'+n,showlegend:false,hoverinfo:'skip'});
  traces.push({type:'scatter',mode:'lines',x:landCopies[0],y:landCopies[1],fill:'toself',fillcolor:'#fff',line:{color:'#777',width:1.3},xaxis:'x'+n,yaxis:'y'+n,showlegend:false,hoverinfo:'skip'});
  const ring=rimLeft.concat(rimRight.slice().reverse(),[rimLeft[0]]);
  traces.push({type:'scatter',mode:'lines',x:ring.map(c=>c[0]),y:ring.map(c=>c[1]),line:{color:'#222',width:1.2},xaxis:'x'+n,yaxis:'y'+n,showlegend:false,hoverinfo:'skip',cliponaxis:false});
  txt(2584,y0-13,name,15,SANS,{xanchor:'center'});
  txt(2854,(y0+y1)/2,'EOFs',14,SANS,{xanchor:'center',textangle:-90,font:{size:14,family:SANS,color:'#222'}});
}
function extendTips(top,bottom){
  const a=X(2786.7),b=X(2795.2),m=X(2791);
  shapes.push({type:'path',xref:'paper',yref:'paper',path:`M ${a},${Y(top+7.5)} L ${b},${Y(top+7.5)} L ${m},${Y(top)} Z`,fillcolor:'#ff0000',line:{color:'#222',width:.8}});
  shapes.push({type:'path',xref:'paper',yref:'paper',path:`M ${a},${Y(bottom-7.5)} L ${b},${Y(bottom-7.5)} L ${m},${Y(bottom)} Z`,fillcolor:'#0000ff',line:{color:'#222',width:.8}});
}
pcPanel(8,'mode = 102',pcsMode102,1842.5,2013.8,[-.0787,.0966],[-.05,0,.05],true);
pcPanel(9,'mode = 81',pcsMode81,2082.7,2254,[-.0825,.0987],[-.05,0,.05],true);
pcPanel(10,'mode = 14',pcsMode14,2323,2494,[-.098,.103],[-.05,0,.05,.1],false);
eofPanel(11,'mode = 102',eofMode102,1842.5,2013.8,1850,156);
eofPanel(12,'mode = 81',eofMode81,2082.7,2254,2090,156);
eofPanel(13,'mode = 14',eofMode14,2323,2494,2323,171);
extendTips(1842.5,2013.8);extendTips(2082.7,2254);

// ---------- caption ----------
captionLines.forEach((l,i)=>{
  const t=captionNatural.includes(i)?l:justified(l,783,74.5);
  txt(38.5,1097.5+89.6*i,t,74.5,SERIF);
});

Object.assign(layout,{width:W,height:H,margin:{l:0,r:0,t:0,b:0,pad:0},paper_bgcolor:'#fff',plot_bgcolor:'rgba(0,0,0,0)',annotations:annotations,shapes:shapes,showlegend:false,barmode:'overlay'});
Plotly.newPlot('plot',traces,layout,{staticPlot:true,displayModeBar:false});
</script></body></html>
